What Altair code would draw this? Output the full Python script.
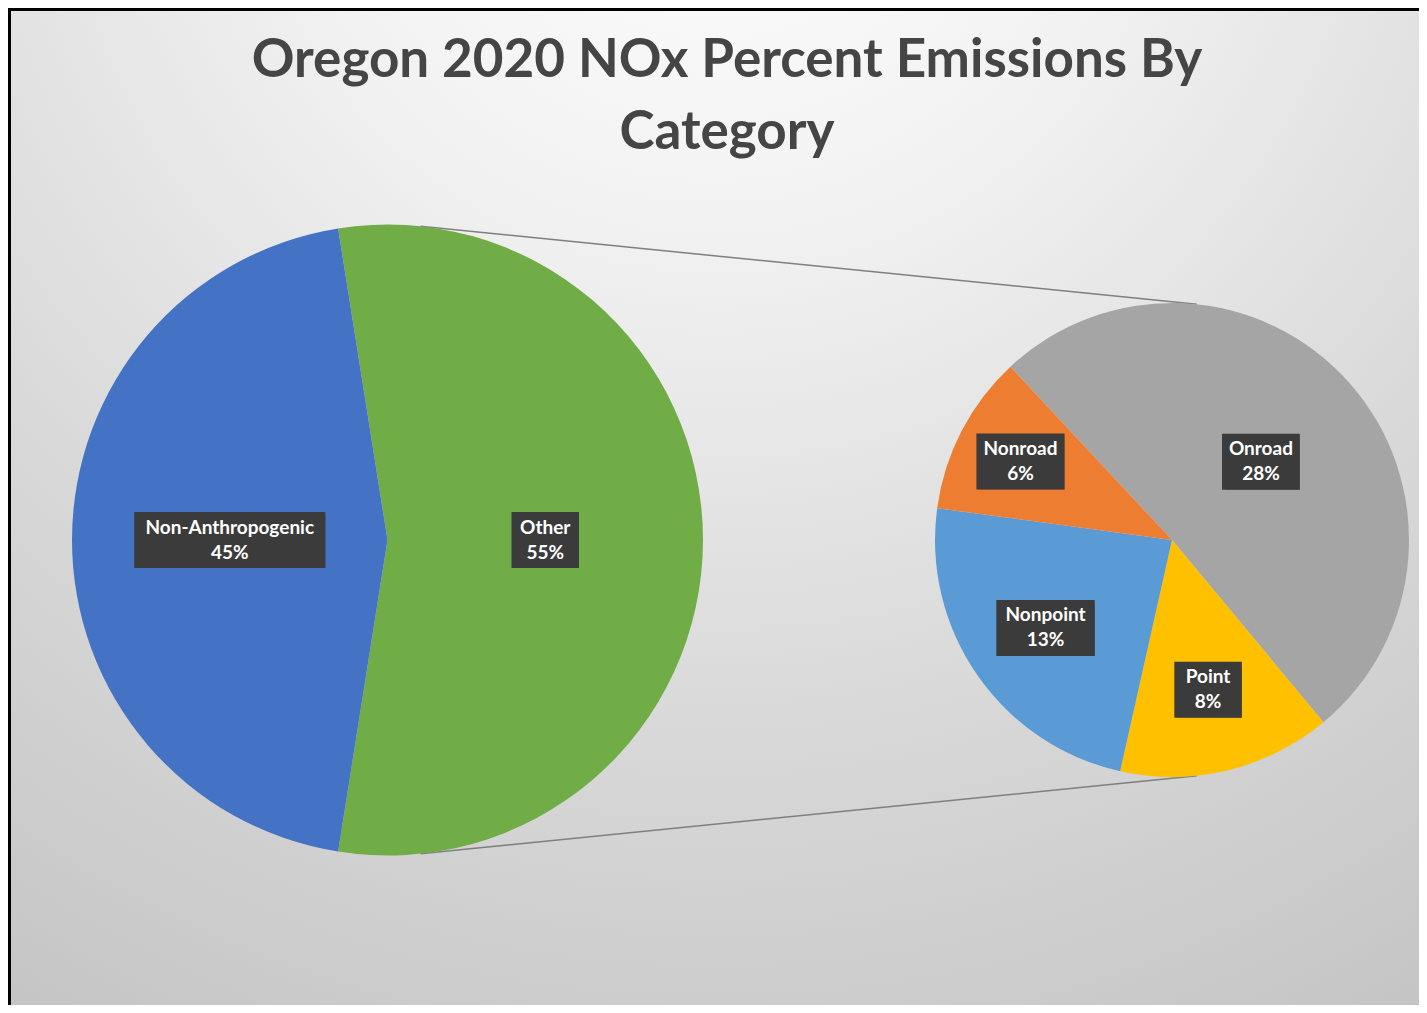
import math
import altair as alt
import pandas as pd

# ---------------- data ----------------
title_lines = ["Oregon 2020 NOx Percent Emissions By", "Category"]
outer_categories = ["Other", "Non-Anthropogenic"]
outer_values = [55, 45]
inner_categories = ["Onroad", "Point", "Nonpoint", "Nonroad"]
inner_values = [28, 8, 13, 6]

# ---------------- style / layout ----------------
outer_colors = ["#70AD47", "#4472C4"]
inner_colors = ["#A5A5A5", "#FFC000", "#5B9BD5", "#ED7D31"]
W, H = 1411, 997
L_CX, L_CY, L_R = 379.5, 532, 315.5
R_CX, R_CY, R_R = 1164, 532, 237
L_START = math.radians(-9)
R_START = math.radians(-43)
CONN = math.radians(6)
FONT = "Lato"
LINE_H = 25

outer_df = pd.DataFrame({"cat": outer_categories, "value": outer_values,
                         "idx": list(range(len(outer_values)))})
inner_df = pd.DataFrame({"cat": inner_categories, "value": inner_values,
                         "idx": list(range(len(inner_values)))})

color_scale = alt.Scale(domain=outer_categories + inner_categories,
                        range=outer_colors + inner_colors)
one = pd.DataFrame({"k": [0]})


def pie(df, cx, cy, r, start):
    total = float(df["value"].sum())
    return alt.Chart(df).mark_arc(outerRadius=r).encode(
        theta=alt.Theta("value:Q", stack=True,
                        scale=alt.Scale(domain=[0, total], nice=False,
                                        range=[start, start + 2 * math.pi])),
        order=alt.Order("idx:Q"),
        color=alt.Color("cat:N", scale=color_scale, legend=None),
        x=alt.value(cx),
        y=alt.value(cy),
    )


def label_base(df, cx, cy, r, start, frac_expr):
    return (
        alt.Chart(df)
        .transform_joinaggregate(total="sum(value)")
        .transform_window(cum="sum(value)", sort=[alt.SortField("idx")], frame=[None, 0])
        .transform_calculate(mid=f"{start} + 2*PI*(datum.cum - datum.value/2)/datum.total")
        .transform_calculate(lr=f"{r}*({frac_expr})")
        .transform_calculate(pct="datum.value + '%'")
        .transform_calculate(label="datum.cat + '\\n' + datum.value + '%'")
        .transform_calculate(lx=f"{cx} + datum.lr*sin(datum.mid)")
        .transform_calculate(ly=f"{cy} - datum.lr*cos(datum.mid)")
        .transform_calculate(ty=f"datum.ly - {LINE_H / 2}")
        .transform_calculate(bw="max(length(datum.cat), length(datum.pct))*10.3 + 16")
        .transform_calculate(bx1="datum.lx - datum.bw/2")
        .transform_calculate(bx2="datum.lx + datum.bw/2")
        .transform_calculate(by1="datum.ly - 28")
        .transform_calculate(by2="datum.ly + 28")
    )


def label_layers(base):
    enc_rect = dict(
        x=alt.X("bx1:Q", scale=None, axis=None), x2="bx2:Q",
        y=alt.Y("by1:Q", scale=None, axis=None), y2="by2:Q",
    )
    shadow2 = base.mark_rect(fill="#000000", opacity=0.12, xOffset=5, yOffset=5).encode(**enc_rect)
    shadow = base.mark_rect(fill="#000000", opacity=0.25, xOffset=3, yOffset=3).encode(**enc_rect)
    box = base.mark_rect(fill="#3b3b3b").encode(**enc_rect)
    txt = base.mark_text(font=FONT, fontWeight="bold", fontSize=19, color="white",
                         lineBreak="\n", lineHeight=LINE_H, align="center",
                         baseline="middle").encode(
        x=alt.X("lx:Q", scale=None, axis=None),
        y=alt.Y("ty:Q", scale=None, axis=None),
        text="label:N",
    )
    return [shadow2, shadow, box, txt]


bg = alt.Chart(one).mark_rect(
    fill={
        "gradient": "radial",
        "x1": 0.5, "y1": 0.0, "r1": 0.0,
        "x2": 0.5, "y2": 0.0, "r2": 1.0,
        "stops": [
            {"offset": 0.0, "color": "#ffffff"},
            {"offset": 0.3, "color": "#f2f2f2"},
            {"offset": 0.65, "color": "#d9d9d9"},
            {"offset": 1.0, "color": "#c4c4c4"},
        ],
    }
).encode(x=alt.value(0), x2=alt.value(W), y=alt.value(0), y2=alt.value(H))

conn_top = alt.Chart(one).mark_rule(color="#7f7f7f", strokeWidth=1.5).encode(
    x=alt.value(L_CX + L_R * math.sin(CONN)), y=alt.value(L_CY - L_R * math.cos(CONN)),
    x2=alt.value(R_CX + R_R * math.sin(CONN)), y2=alt.value(R_CY - R_R * math.cos(CONN)),
)
conn_bot = alt.Chart(one).mark_rule(color="#7f7f7f", strokeWidth=1.5).encode(
    x=alt.value(L_CX + L_R * math.sin(CONN)), y=alt.value(L_CY + L_R * math.cos(CONN)),
    x2=alt.value(R_CX + R_R * math.sin(CONN)), y2=alt.value(R_CY + R_R * math.cos(CONN)),
)

left_pie = pie(outer_df, L_CX, L_CY, L_R, L_START)
right_pie = pie(inner_df, R_CX, R_CY, R_R, R_START)

left_labels = label_layers(label_base(outer_df, L_CX, L_CY, L_R, L_START, "0.5"))
right_labels = label_layers(label_base(
    inner_df, R_CX, R_CY, R_R, R_START,
    "datum.cat == 'Onroad' ? 0.5 : (datum.cat == 'Nonroad' ? 0.72 : 0.65)"))

title = alt.Chart(one).mark_text(
    text=title_lines, font=FONT, fontWeight="bold", fontSize=53, color="#454545",
    lineHeight=72, align="center", baseline="middle",
).encode(x=alt.value(719), y=alt.value(53))

border_left = alt.Chart(one).mark_rule(color="#000000", strokeWidth=3).encode(
    x=alt.value(1.5), y=alt.value(0), y2=alt.value(H))
border_top = alt.Chart(one).mark_rule(color="#000000", strokeWidth=3).encode(
    x=alt.value(0), x2=alt.value(W), y=alt.value(1.5))

chart = alt.layer(
    bg, conn_top, conn_bot, left_pie, right_pie,
    *left_labels, *right_labels, title, border_left, border_top,
).resolve_scale(theta="independent").properties(
    width=W, height=H, padding=0,
    autosize=alt.AutoSizeParams(type="none"),
).configure_view(stroke=None)

chart.save("out.html", embed_options={"renderer": "svg", "actions": False})
